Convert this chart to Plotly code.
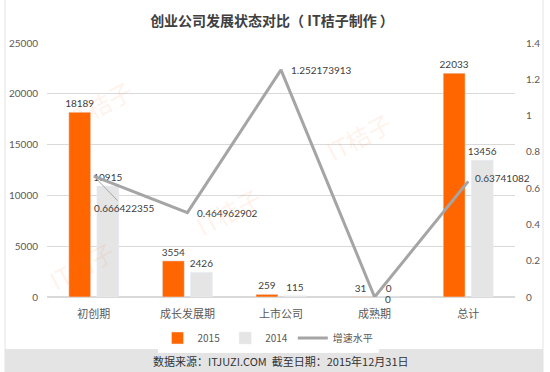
import plotly.graph_objects as go

categories = ["初创期", "成长发展期", "上市公司", "成熟期", "总计"]
values_2015 = [18189, 3554, 259, 31, 22033]
values_2014 = [10915, 2426, 115, 0, 13456]
growth = [0.666422355, 0.464962902, 1.252173913, 0, 0.63741082]

title_text = "创业公司发展状态对比（ IT桔子制作 ）"
footer_text = "数据来源：ITJUZI.COM  截至日期：2015年12月31日"

W, H = 550, 372
L, R, T, B = 47, 35, 43, 75
pw, ph = W - L - R, H - T - B

def px_x(x):
    return (x - L) / pw

def px_y(y):
    return (H - B - y) / ph

num_font = dict(family="Lato, Open Sans, sans-serif", size=10, color="#404040")
cjk = "Noto Sans CJK SC, sans-serif"

fig = go.Figure()
fig.add_trace(go.Bar(
    x=categories, y=values_2015, name="2015", marker_color="#FF6600",
    text=[str(v) for v in values_2015], textposition="outside",
    textfont=num_font, cliponaxis=False, constraintext="none",
))
fig.add_trace(go.Bar(
    x=categories, y=values_2014, name="2014", marker_color="#E5E5E5",
    text=[str(v) for v in values_2014], textposition="outside",
    textfont=num_font, cliponaxis=False, constraintext="none",
))
fig.add_trace(go.Scatter(
    x=categories, y=growth, name="增速水平", yaxis="y2", mode="lines",
    line=dict(color="#A5A5A5", width=3), cliponaxis=False,
))

annotations = []
for i, (c, g) in enumerate(zip(categories, growth)):
    label = str(g) if g != 0 else "0"
    if i == 0:
        annotations.append(dict(
            x=c, y=g, xref="x", yref="y2", text=label, showarrow=True,
            arrowhead=0, arrowwidth=1, arrowcolor="#A5A5A5", ax=31, ay=32,
            standoff=2, font=num_font,
        ))
    else:
        is_last = i == len(growth) - 1
        annotations.append(dict(
            x=c, y=g, xref="x", yref="y2", text=label, showarrow=False,
            xanchor="left", xshift=(5 if is_last else 8),
            yshift=(-2 if g == 0 else (3 if is_last else 0)), font=num_font,
        ))

annotations.append(dict(
    x=0.5, y=px_y(361), xref="paper", yref="paper", text=footer_text,
    showarrow=False, font=dict(family=cjk, size=11, color="#333333"),
    xanchor="center", yanchor="middle",
))

# faint watermarks
wm_font = dict(family=cjk, size=24, color="rgba(255,120,50,0.11)")
for (wx, wy) in [(58, 70), (228, 212), (400, 136), (40, 300)]:
    annotations.append(dict(
        x=px_x(wx), y=px_y(wy), xref="paper", yref="paper", text="IT桔子",
        showarrow=False, textangle=-28, font=wm_font,
    ))

shapes = [
    dict(type="rect", xref="paper", yref="paper",
         x0=px_x(5), x1=px_x(543), y0=px_y(349), y1=px_y(372),
         fillcolor="#E4E4E4", line=dict(width=0), layer="below"),
    dict(type="line", xref="paper", yref="paper",
         x0=px_x(5), x1=px_x(5), y0=px_y(0), y1=px_y(372),
         line=dict(color="#E3E3E3", width=1)),
    dict(type="line", xref="paper", yref="paper",
         x0=px_x(543), x1=px_x(543), y0=px_y(0), y1=px_y(372),
         line=dict(color="#E3E3E3", width=1)),
]

fig.update_layout(
    width=W, height=H,
    margin=dict(l=L, r=R, t=T, b=B, autoexpand=False),
    paper_bgcolor="white", plot_bgcolor="white",
    title=dict(text="<b>" + title_text + "</b>", xref="container", x=272 / W,
               xanchor="center", y=1 - 21 / H, yanchor="middle",
               font=dict(family=cjk, size=14, color="#404040")),
    barmode="group", bargap=0.40, bargroupgap=0.22,
    xaxis=dict(range=[-0.5, 4.5], autorange=False, showgrid=False, showline=False,
               ticks="", tickfont=dict(family=cjk, size=11, color="#595959"),
               ticklabelstandoff=9),
    yaxis=dict(range=[0, 25000], dtick=5000, tickformat="d", showgrid=True,
               gridcolor="#D9D9D9", gridwidth=1, zeroline=True, zerolinecolor="#D9D9D9",
               tickfont=dict(family="Lato, Open Sans, sans-serif", size=10, color="#595959"),
               ticklabelstandoff=8),
    yaxis2=dict(range=[0, 1.4], dtick=0.2, overlaying="y", side="right",
                showgrid=False, zeroline=False,
                tickfont=dict(family="Lato, Open Sans, sans-serif", size=10, color="#595959"),
                ticklabelstandoff=10),
    legend=dict(orientation="h", x=px_x(268), xanchor="center", y=px_y(338),
                yanchor="middle", font=dict(family=cjk, size=10, color="#595959"),
                itemwidth=30, traceorder="normal"),
    showlegend=True,
    annotations=annotations,
    shapes=shapes,
)

fig.write_html("out.html", config={"displayModeBar": False},
               post_script="document.body.style.margin='0';document.body.style.overflow='hidden';")
